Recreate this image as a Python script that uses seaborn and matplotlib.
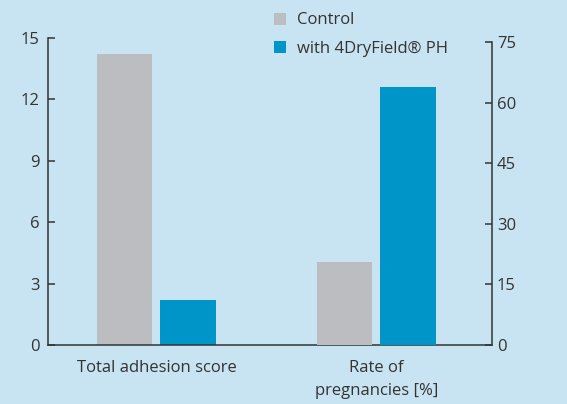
import pandas as pd
import matplotlib.pyplot as plt
import seaborn as sns
from matplotlib.patches import Patch

# Data
categories = ['Total adhesion score', 'Rate of\npregnancies [%]']
groups = ['Control', 'with 4DryField® PH']
adhesion_score = [14.2, 2.2]
pregnancy_rate = [20.6, 63.8]
left_ticks = [0, 3, 6, 9, 12, 15]
right_ticks = [0, 15, 30, 45, 60, 75]

bg = '#c8e3f1'
colors = ['#bcbdc1', '#0095c9']
dark = '#333333'

sns.set_style('white')
plt.rcParams['font.family'] = ['Open Sans', 'DejaVu Sans']
plt.rcParams['font.size'] = 12

df_adh = pd.DataFrame({'cat': categories[0], 'group': groups, 'value': adhesion_score})
df_preg = pd.DataFrame({'cat': categories[1], 'group': groups, 'value': pregnancy_rate})

fig = plt.figure(figsize=(5.67, 4.04), dpi=100, facecolor=bg)
ax = fig.add_axes([48 / 567, 59 / 404, 444 / 567, 307 / 404])
ax.set_facecolor(bg)
ax2 = ax.twinx()

bar_kw = dict(x='cat', y='value', hue='group', order=categories, hue_order=groups,
              palette=colors, width=0.577, gap=0.126, saturation=1, legend=False,
              linewidth=0, edgecolor='none')
sns.barplot(data=df_adh, ax=ax, **bar_kw)
sns.barplot(data=df_preg, ax=ax2, **bar_kw)

ax.set_xlim(-0.493, 1.525)
ax.set_ylim(0, 15)
ax2.set_ylim(0, 75 * 307 / 303)
ax.set_yticks(left_ticks)
ax2.set_yticks(right_ticks)
ax.set_xticks([0, 1])
ax.set_xticklabels(categories, color=dark, fontsize=12, linespacing=1.65)
ax.set_xticks([0.5], minor=True)
ax.set_xlabel('')
ax.set_ylabel('')
ax2.set_ylabel('')

ax.tick_params(axis='x', which='major', length=0, pad=10.5)
ax.tick_params(axis='x', which='minor', direction='in', length=5, width=1.1, color=dark)
ax.tick_params(axis='y', direction='in', length=5, width=1.1, color=dark,
               labelcolor=dark, labelsize=12, pad=6)
ax2.tick_params(axis='y', direction='in', length=5, width=1.1, color=dark,
                labelcolor=dark, labelsize=12, pad=3.5)

for a in (ax, ax2):
    for s in a.spines.values():
        s.set_color(dark)
        s.set_linewidth(1.1)
    a.spines['top'].set_visible(False)
ax.spines['right'].set_visible(False)
ax2.spines['left'].set_visible(False)
ax2.spines['bottom'].set_visible(False)
ax.spines['left'].set_bounds(0, 15)
ax2.spines['right'].set_bounds(0, 75)

handles = [Patch(facecolor=c, edgecolor='none') for c in colors]
fig.legend(handles, groups, loc='upper left', bbox_to_anchor=(261 / 567, 1.0),
           frameon=False, fontsize=12, handlelength=0.75, handleheight=0.75,
           handletextpad=0.65, labelspacing=0.75, labelcolor=dark,
           borderaxespad=0.35)

plt.savefig('out.png', dpi=100, facecolor=bg)
